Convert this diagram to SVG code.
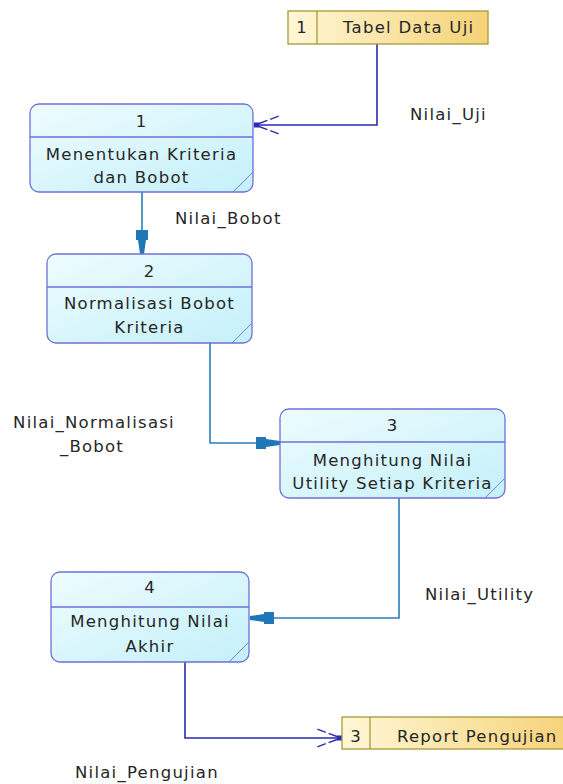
<svg xmlns="http://www.w3.org/2000/svg" width="563" height="784" viewBox="0 0 563 784">
  <style>
    text { font-family: "DejaVu Sans", Verdana, sans-serif; font-size: 16.5px; letter-spacing: 1.25px; fill: #262626; }
    .c { text-anchor: middle; }
    .proc { fill: url(#procFill); stroke: #6f6fd8; stroke-width: 1.3; }
    .div { stroke: #6f6fd8; stroke-width: 1.3; }
    .fold { stroke: #7a7ad8; stroke-width: 1; fill: none; }
    .store { fill: url(#storeFill); stroke: #a49a3a; stroke-width: 1.3; }
    .flowT { fill: none; stroke: #2a7fb8; stroke-width: 1.6; marker-end: url(#arrTeal); }
    .flowB { fill: none; stroke: #2b2bb0; stroke-width: 1.6; marker-end: url(#arrFork); }
  </style>
  <defs>
    <linearGradient id="procFill" x1="0" y1="0" x2="1" y2="1">
      <stop offset="0" stop-color="#eefcfe"/>
      <stop offset="1" stop-color="#c4f0fa"/>
    </linearGradient>
    <linearGradient id="storeFill" x1="0" y1="0" x2="1" y2="0">
      <stop offset="0" stop-color="#fff7d6"/>
      <stop offset="1" stop-color="#f6d277"/>
    </linearGradient>
    <marker id="arrTeal" markerUnits="userSpaceOnUse" markerWidth="26" markerHeight="14" viewBox="0 -7 26 14" refX="25" refY="0" orient="auto">
      <path d="M1,-6 L11,-6 L11,-4 L25,-2 L25,2 L11,4 L11,6 L1,6 Z" fill="#1f78b6"/>
    </marker>
    <marker id="arrFork" markerUnits="userSpaceOnUse" markerWidth="28" markerHeight="22" viewBox="0 -11 28 22" refX="27" refY="0" orient="auto">
      <rect x="22" y="-2.5" width="5" height="5" fill="#2b2bb0"/>
      <path d="M22,-1.5 L2,-9 M22,1.5 L2,9" stroke="#2b2bb0" stroke-width="1.4" stroke-dasharray="9 3" fill="none"/>
    </marker>
  </defs>

  <!-- data flows -->
  <g id="connectors">
    <polyline class="flowB" points="377,44 377,125 254,125"/>
    <polyline class="flowT" points="142,192 142,254"/>
    <polyline class="flowT" points="210,343 210,443 280,443"/>
    <polyline class="flowT" points="399,498 399,618 250,618"/>
    <polyline class="flowB" points="185,662 185,738 342,738"/>
    <text x="410" y="120">Nilai_Uji</text>
    <text x="175" y="224">Nilai_Bobot</text>
    <text x="94" y="428" class="c">Nilai_Normalisasi</text>
    <text x="92" y="452" class="c">_Bobot</text>
    <text x="425" y="600">Nilai_Utility</text>
    <text x="75" y="778">Nilai_Pengujian</text>
  </g>

  <!-- data stores -->
  <g id="store1">
    <rect class="store" x="288" y="11" width="200" height="33"/>
    <line x1="317" y1="11" x2="317" y2="44" stroke="#a49a3a" stroke-width="1.3"/>
    <text x="302" y="33" class="c">1</text>
    <text x="343" y="33">Tabel Data Uji</text>
  </g>
  <g id="store3">
    <rect class="store" x="342" y="717" width="230" height="32"/>
    <line x1="370" y1="717" x2="370" y2="749" stroke="#a49a3a" stroke-width="1.3"/>
    <text x="356" y="742" class="c">3</text>
    <text x="397" y="742">Report Pengujian</text>
  </g>

  <!-- processes -->
  <g id="proc1">
    <rect class="proc" x="30" y="104" width="223" height="88" rx="9"/>
    <line class="div" x1="30" y1="137" x2="253" y2="137"/>
    <line class="fold" x1="233" y1="192" x2="253" y2="172"/>
    <text x="141.5" y="127" class="c">1</text>
    <text x="141.5" y="160" class="c">Menentukan Kriteria</text>
    <text x="141.5" y="183" class="c">dan Bobot</text>
  </g>
  <g id="proc2">
    <rect class="proc" x="47" y="254" width="205" height="89" rx="9"/>
    <line class="div" x1="47" y1="287" x2="252" y2="287"/>
    <line class="fold" x1="232" y1="343" x2="252" y2="323"/>
    <text x="149.5" y="277" class="c">2</text>
    <text x="149.5" y="309" class="c">Normalisasi Bobot</text>
    <text x="149.5" y="333" class="c">Kriteria</text>
  </g>
  <g id="proc3">
    <rect class="proc" x="280" y="409" width="225" height="89" rx="9"/>
    <line class="div" x1="280" y1="442" x2="505" y2="442"/>
    <line class="fold" x1="485" y1="498" x2="505" y2="478"/>
    <text x="392.5" y="431" class="c">3</text>
    <text x="392.5" y="466" class="c">Menghitung Nilai</text>
    <text x="392.5" y="489" class="c">Utility Setiap Kriteria</text>
  </g>
  <g id="proc4">
    <rect class="proc" x="51" y="572" width="198" height="90" rx="9"/>
    <line class="div" x1="51" y1="607" x2="249" y2="607"/>
    <line class="fold" x1="229" y1="662" x2="249" y2="642"/>
    <text x="150" y="593" class="c">4</text>
    <text x="150" y="627" class="c">Menghitung Nilai</text>
    <text x="150" y="652" class="c">Akhir</text>
  </g>
</svg>
